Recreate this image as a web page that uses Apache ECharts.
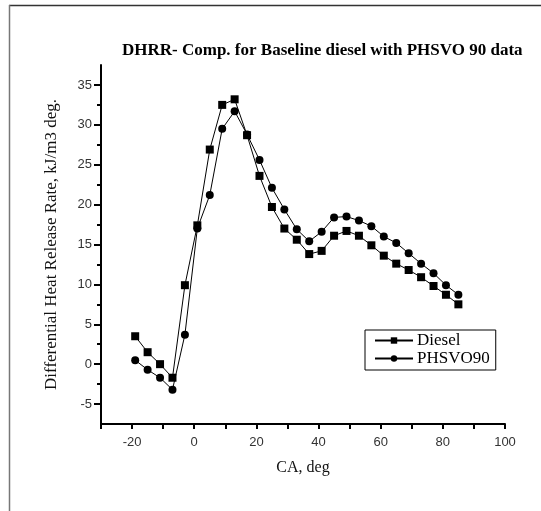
<!DOCTYPE html>
<html>
<head>
<meta charset="utf-8">
<script src="https://cdn.jsdelivr.net/npm/echarts@6/dist/echarts.min.js"></script>
<style>html,body{margin:0;padding:0;background:#fff;}#c{width:541px;height:511px;}</style>
</head>
<body>
<div id="c"></div>
<script>
const crankAngles = [-19, -15, -11, -7, -3, 1, 5, 9, 13, 17, 21, 25, 29, 33, 37, 41, 45, 49, 53, 57, 61, 65, 69, 73, 77, 81, 85];
const dieselValues = [3.5, 1.5, 0.0, -1.7, 9.9, 17.4, 26.9, 32.5, 33.2, 28.7, 23.6, 19.7, 17.0, 15.6, 13.8, 14.2, 16.1, 16.7, 16.1, 14.9, 13.6, 12.6, 11.8, 10.9, 9.8, 8.7, 7.5];
const phsvoValues = [0.5, -0.7, -1.7, -3.2, 3.7, 17.0, 21.2, 29.5, 31.7, 28.8, 25.6, 22.1, 19.4, 16.9, 15.4, 16.6, 18.4, 18.5, 18.0, 17.3, 16.0, 15.2, 13.9, 12.6, 11.4, 9.9, 8.7];
const yMajorTicks = [-5, 0, 5, 10, 15, 20, 25, 30, 35];
const yMinorTicks = [-2.5, 2.5, 7.5, 12.5, 17.5, 22.5, 27.5, 32.5];

const pair = (xs, ys) => xs.map((x, i) => [x, ys[i]]);
const serif = 'Liberation Serif';
const sans = 'Liberation Sans';

const chart = echarts.init(document.getElementById('c'), null, {renderer: 'canvas'});
chart.setOption({
  animation: false,
  backgroundColor: '#fff',
  title: {
    text: 'DHRR- Comp. for Baseline diesel with PHSVO 90 data',
    left: 122, top: 42, padding: 0,
    textStyle: {fontFamily: serif, fontWeight: 'bold', fontSize: 17, color: '#000'}
  },
  legend: {
    orient: 'vertical', left: 365, top: 330,
    padding: [2, 6, 3, 9], itemGap: 1,
    itemWidth: 38, itemHeight: 8,
    borderColor: '#000', borderWidth: 1, borderRadius: 0,
    textStyle: {fontFamily: serif, fontSize: 17, lineHeight: 17, color: '#000', padding: [0, 0, 0, -1]},
    data: ['Diesel', 'PHSVO90']
  },
  grid: {left: 101, right: 36, top: 65, bottom: 87, containLabel: false},
  xAxis: {
    type: 'value', min: -30, max: 100, interval: 10,
    name: 'CA, deg', nameLocation: 'middle', nameGap: 36,
    nameTextStyle: {fontFamily: serif, fontSize: 16, color: '#111'},
    axisLine: {show: true, onZero: false, lineStyle: {color: '#000', width: 2}},
    axisTick: {show: true, length: 5, lineStyle: {color: '#000', width: 2}},
    axisLabel: {fontFamily: sans, fontSize: 13, color: '#333', margin: 12,
      formatter: v => (v % 20 === 0 ? String(v) : '')},
    splitLine: {show: false}
  },
  yAxis: [{
    type: 'value', min: -7.5, max: 37.5, position: 'left',
    name: 'Differential Heat Release Rate, kJ/m3 deg.', nameLocation: 'middle', nameGap: 41, nameRotate: 90,
    nameTextStyle: {fontFamily: serif, fontSize: 17, color: '#111'},
    axisLine: {show: true, onZero: false, lineStyle: {color: '#000', width: 2}},
    axisTick: {show: true, length: 7, customValues: yMajorTicks, lineStyle: {color: '#000', width: 2}},
    axisLabel: {fontFamily: sans, fontSize: 13, color: '#333', margin: 9, customValues: yMajorTicks},
    splitLine: {show: false}
  }, {
    type: 'value', min: -7.5, max: 37.5, position: 'left', offset: 0,
    axisLine: {show: false, onZero: false},
    axisTick: {show: true, length: 4, customValues: yMinorTicks, lineStyle: {color: '#000', width: 2}},
    axisLabel: {show: false},
    splitLine: {show: false}
  }],
  series: [{
    name: 'Diesel', type: 'line', data: pair(crankAngles, dieselValues),
    symbol: 'rect', symbolSize: 8, showAllSymbol: true,
    itemStyle: {color: '#000'}, lineStyle: {color: '#000', width: 1}
  }, {
    name: 'PHSVO90', type: 'line', data: pair(crankAngles, phsvoValues),
    symbol: 'circle', symbolSize: 8, showAllSymbol: true,
    itemStyle: {color: '#000'}, lineStyle: {color: '#000', width: 1}
  }],
  graphic: [
    {type: 'line', shape: {x1: 9, y1: 5.5, x2: 541, y2: 5.5}, style: {stroke: '#333', lineWidth: 1.5}},
    {type: 'line', shape: {x1: 9.5, y1: 5, x2: 9.5, y2: 511}, style: {stroke: '#777', lineWidth: 1.5}}
  ]
});
</script>
</body>
</html>
